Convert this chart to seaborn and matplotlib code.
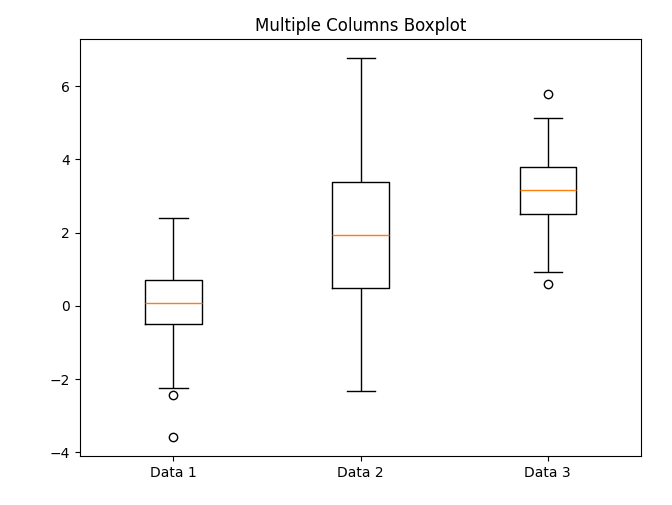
import matplotlib

matplotlib.use("Agg")
import matplotlib.pyplot as plt
import pandas as pd
import seaborn as sns

# values (whisker ends, quartiles, median, outliers)
data_1 = [-3.58, -2.44, -2.25, -0.50, -0.33, -0.08, 0.09, 0.27, 0.55, 0.70, 1.12, 1.83, 2.41]
data_2 = [-2.31, 0.50, 1.93, 3.37, 6.77]
data_3 = [0.59, 0.92, 2.52, 2.88, 3.17, 3.41, 3.79, 5.14, 5.78]
labels = ["Data 1", "Data 2", "Data 3"]

# long format for seaborn
rows = []
for name, vals in zip(labels, [data_1, data_2, data_3]):
    for v in vals:
        rows.append({"column": name, "value": v})
df = pd.DataFrame(rows)

fig, ax = plt.subplots(figsize=(6.72, 5.05), dpi=100)
fig.subplots_adjust(left=0.119, right=0.954, bottom=0.097, top=0.923)

sns.boxplot(
    data=df,
    x="column",
    y="value",
    order=labels,
    width=0.3,
    fill=False,
    color="black",
    linewidth=1,
    whis=1.5,
    medianprops={"color": "C1"},
    flierprops={
        "marker": "o",
        "markerfacecolor": "none",
        "markeredgecolor": "black",
        "markersize": 6,
    },
    ax=ax,
)

ax.set_title("Multiple Columns Boxplot", fontsize=12)
ax.set_xlabel("")
ax.set_ylabel("")

plt.savefig("out.png", dpi=100)
